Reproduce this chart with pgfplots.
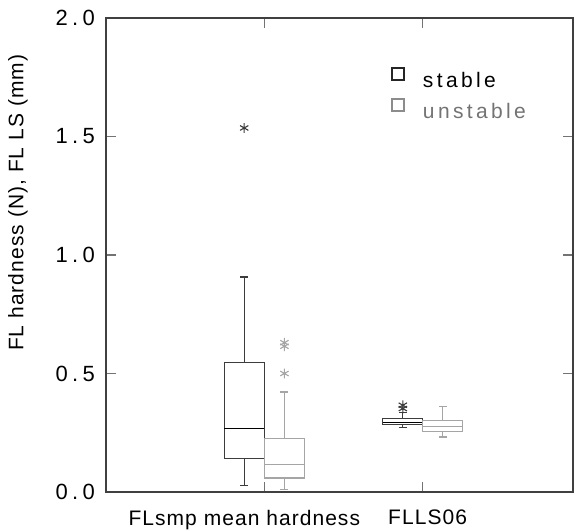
\documentclass[border=0pt]{standalone}
\usepackage{fontspec}
\setmainfont{Liberation Sans}[LetterSpace=5]
\newfontfamily\tickfont{Liberation Sans}[LetterSpace=20]
\newfontfamily\legfont{Liberation Sans}[LetterSpace=16]
\usepackage{pgfplots}
\pgfplotsset{compat=1.18}
\usepgfplotslibrary{statistics}
\definecolor{stab}{RGB}{60,60,60}
\definecolor{unst}{RGB}{165,165,165}
\newcommand{\fs}{\fontsize{10.5}{12.6}\selectfont}

\begin{document}
\begin{tikzpicture}
\begin{axis}[
  name=ax,
  scale only axis, width=233.5pt, height=237pt,
  xmin=0, xmax=2.95, ymin=0, ymax=2,
  xtick={1,2},
  xticklabels={{FLsmp mean hardness\hspace*{20pt}},{\hspace*{5pt}FLLS06}},
  ytick={0,0.5,1,1.5,2},
  tick align=inside, tick pos=both,
  major tick length=5pt,
  axis line style={draw=black!75, line width=0.6pt},
  tick style={draw=black!55, line width=0.6pt},
  x tick label style={font=\fs, yshift=-5.5pt},
  y tick label style={font=\tickfont\fontsize{11}{13}\selectfont, xshift=-2pt},
  /pgf/number format/assume math mode=true,
  yticklabel style={/pgf/number format/.cd, fixed, fixed zerofill, precision=1},
  ylabel={FL hardness (N), FL LS (mm)},
  ylabel style={font=\fs, at={(axis description cs:-0.1884,0.61)}, anchor=center},
  legend image code/.code={\draw[#1] (0pt,0.5pt) rectangle (6pt,6.5pt);},
  legend style={at={(axis description cs:0.597,0.905)}, anchor=north west,
    draw=none, fill=none, font=\legfont\fs, row sep=2pt, column sep=7pt},
  legend cell align=left,
  boxplot/draw direction=y,
]
\addlegendimage{draw=black!85, line width=0.9pt}
\addlegendentry{stable}
\addlegendimage{draw=black!45, line width=0.7pt}
\addlegendentry[text=black!55]{unstable}

% FLsmp mean hardness
\addplot[stab, line width=0.55pt, mark=asterisk, mark size=2.4pt,
  boxplot prepared={draw position=0.873, box extend=0.253, whisker extend=0.05,
    lower whisker=0.027, lower quartile=0.142, median=0.269,
    upper quartile=0.547, upper whisker=0.907,
    every median/.style={draw=black, line width=0.6pt}}]
  coordinates {(0,1.536)};
\addplot[unst, line width=0.55pt, mark=asterisk, mark size=2.4pt,
  boxplot prepared={draw position=1.127, box extend=0.253, whisker extend=0.05,
    lower whisker=0.01, lower quartile=0.059, median=0.115,
    upper quartile=0.224, upper whisker=0.422}]
  coordinates {(0,0.63) (0,0.615) (0,0.50)};

% FLLS06
\addplot[stab, line width=0.55pt, mark=asterisk, mark size=2.4pt,
  boxplot prepared={draw position=1.875, box extend=0.253, whisker extend=0.05,
    lower whisker=0.272, lower quartile=0.283, median=0.292,
    upper quartile=0.311, upper whisker=0.335,
    every median/.style={draw=black, line width=0.6pt}}]
  coordinates {(0,0.352) (0,0.366)};
\addplot[unst, line width=0.55pt, mark=asterisk, mark size=2.4pt,
  boxplot prepared={draw position=2.128, box extend=0.253, whisker extend=0.05,
    lower whisker=0.232, lower quartile=0.257, median=0.278,
    upper quartile=0.30, upper whisker=0.36}]
  coordinates {};
\end{axis}
\pgfresetboundingbox
\useasboundingbox ([xshift=-53pt,yshift=-19.5pt]ax.south west) rectangle ([xshift=1.5pt,yshift=9pt]ax.north east);
\end{tikzpicture}
\end{document}
